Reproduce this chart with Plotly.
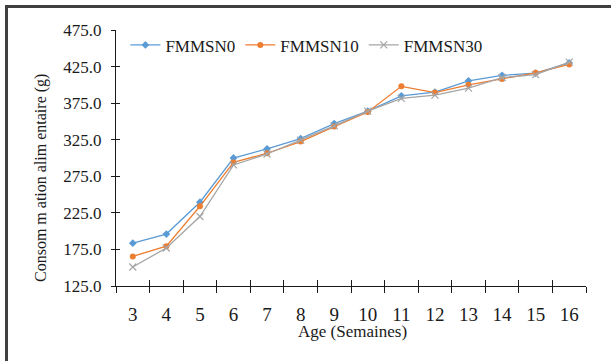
import plotly.graph_objects as go

# Age in weeks and feed intake (g) for each diet
weeks = ["3", "4", "5", "6", "7", "8", "9", "10", "11", "12", "13", "14", "15", "16"]
fmmsn0 = [183.5, 196.0, 239.5, 300.0, 312.5, 326.5, 347.0, 364.0, 385.0, 390.0, 405.5, 413.0, 416.0, 430.0]
fmmsn10 = [165.5, 179.5, 234.0, 294.0, 306.5, 322.5, 343.0, 363.0, 398.0, 389.5, 400.0, 408.0, 416.5, 428.0]
fmmsn30 = [151.0, 177.0, 220.0, 290.5, 305.5, 324.5, 344.0, 364.0, 381.5, 386.0, 395.5, 410.0, 414.0, 431.0]

y_ticks = [125, 175, 225, 275, 325, 375, 425, 475]
y_range = [125, 475]

series = [
    ("FMMSN0", fmmsn0, "#5B9BD5", dict(symbol="diamond", size=6)),
    ("FMMSN10", fmmsn10, "#ED7D31", dict(symbol="circle", size=6)),
    ("FMMSN30", fmmsn30, "#A5A5A5", dict(symbol="x-thin", size=7, line=dict(width=1.2, color="#A5A5A5"))),
]

fig = go.Figure()
for name, vals, col, mk in series:
    fig.add_trace(go.Scatter(
        x=weeks, y=vals, name=name, mode="lines+markers",
        line=dict(color=col, width=1.3),
        marker=dict(color=col, **mk),
    ))

# invisible copy on an overlaid axis pair, used for the inward half of the crossing ticks
fig.add_trace(go.Scatter(x=weeks, y=fmmsn0, xaxis="x2", yaxis="y2", mode="lines",
                         line=dict(width=0, color="rgba(0,0,0,0)"), showlegend=False,
                         hoverinfo="skip"))

serif = "Liberation Serif, Times New Roman, serif"
W, H = 611, 361
L, R, T, B = 116, 25, 30, 75
pw, ph = W - L - R, H - T - B

fig.update_layout(
    width=W, height=H,
    margin=dict(l=L, r=R, t=T, b=B),
    paper_bgcolor="white", plot_bgcolor="white",
    font=dict(family=serif, color="#1a1a1a"),
    showlegend=True,
    legend=dict(orientation="h", x=0.02, xanchor="left", y=0.94, yanchor="middle",
                bgcolor="rgba(0,0,0,0)", font=dict(size=17, family=serif, color="#1a1a1a"),
                itemwidth=30, tracegroupgap=0),
    xaxis=dict(type="category", range=[-0.5, len(weeks) - 0.5], tickson="boundaries",
               ticks="outside", ticklen=6, tickwidth=1, tickcolor="#1a1a1a",
               showline=True, linecolor="#1a1a1a", linewidth=1, showgrid=False, zeroline=False,
               tickfont=dict(size=19, family=serif, color="#1a1a1a"), ticklabelstandoff=11),
    yaxis=dict(range=y_range, tickvals=y_ticks, ticktext=[f"{v:.1f}" for v in y_ticks],
               ticks="outside", ticklen=4, tickwidth=1, tickcolor="#1a1a1a",
               showline=True, linecolor="#1a1a1a", linewidth=1, showgrid=False, zeroline=False,
               tickfont=dict(size=17, family=serif, color="#1a1a1a"), ticklabelstandoff=6),
    xaxis2=dict(type="category", overlaying="x", range=[-0.5, len(weeks) - 0.5],
                tickson="boundaries", ticks="inside", ticklen=6, tickwidth=1, tickcolor="#1a1a1a",
                showticklabels=False, showgrid=False, zeroline=False, showline=False, side="bottom",
                anchor="y2"),
    yaxis2=dict(overlaying="y", range=y_range, tickvals=y_ticks, ticks="inside", ticklen=4,
                tickwidth=1, tickcolor="#1a1a1a", showticklabels=False, showgrid=False,
                zeroline=False, showline=False, side="left", anchor="x2"),
)

# axis titles
fig.add_annotation(text="Age (Semaines)", xref="paper", yref="paper",
                   x=(352 - L) / pw, y=(H - B - 331) / ph, xanchor="center", yanchor="middle",
                   showarrow=False, font=dict(size=17, family=serif, color="#1a1a1a"))
fig.add_annotation(text="Consom m ation alim entaire (g)", xref="paper", yref="paper",
                   x=(41 - L) / pw, y=(H - B - 178) / ph, xanchor="center", yanchor="middle",
                   textangle=-90, showarrow=False,
                   font=dict(size=16, family=serif, color="#1a1a1a"))

# outer frame (top and left edges)
def px_x(v):
    return (v - L) / pw

def px_y(v):
    return (H - B - v) / ph

fig.add_shape(type="line", xref="paper", yref="paper", x0=px_x(5), x1=px_x(W + 2),
              y0=px_y(6.5), y1=px_y(6.5), line=dict(color="#404040", width=3))
fig.add_shape(type="line", xref="paper", yref="paper", x0=px_x(6.5), x1=px_x(6.5),
              y0=px_y(5), y1=px_y(H + 2), line=dict(color="#404040", width=3))

fig.write_html("out.html")
